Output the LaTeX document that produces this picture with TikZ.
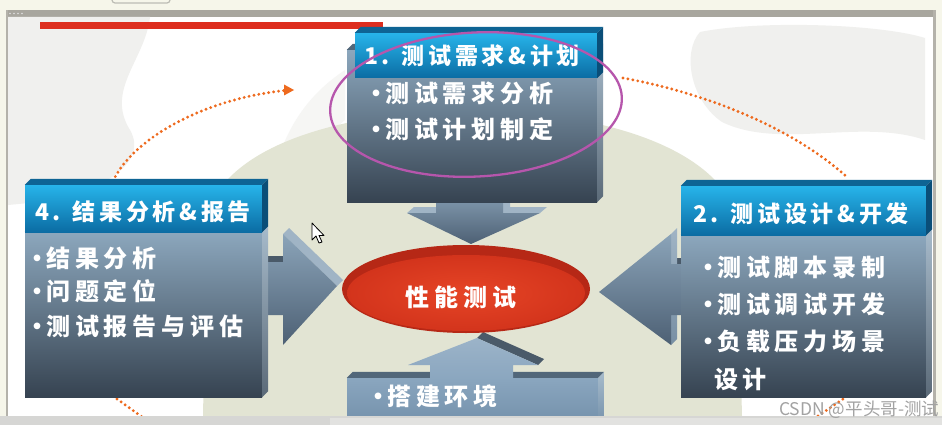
\documentclass[tikz,border=0pt]{standalone}
\usepackage{fontspec}
\newfontfamily\cjk{Noto Sans CJK SC}
\usetikzlibrary{arrows.meta,shapes.geometric}
\definecolor{cream}{HTML}{F6F6EA}
\definecolor{framegrey}{HTML}{A8A69E}
\definecolor{edgegrey}{HTML}{B4B2AA}
\definecolor{tabgrey}{HTML}{BDBDB5}
\definecolor{barA}{HTML}{D6D6D4}
\definecolor{barB}{HTML}{E2E2E0}
\definecolor{cloud}{HTML}{F0F0EE}
\definecolor{beige}{HTML}{E2E4D3}
\definecolor{redline}{HTML}{DD2E1E}
\definecolor{hdrtop}{HTML}{27B4EA}
\definecolor{hdrbot}{HTML}{0B6CA3}
\definecolor{hdrface}{HTML}{0E6494}
\definecolor{hdrside}{HTML}{0A4E78}
\definecolor{bodytop}{HTML}{8CA7BD}
\definecolor{bodybot}{HTML}{364351}
\definecolor{bodyface}{HTML}{52677A}
\definecolor{sidetop}{HTML}{A7BBCB}
\definecolor{sidebot}{HTML}{5B6A78}
\definecolor{arrtop}{HTML}{8BA4B9}
\definecolor{arrbot}{HTML}{4D6074}
\definecolor{arrlight}{HTML}{A0B4C5}
\definecolor{arrdark}{HTML}{4A5A69}
\definecolor{envtop}{HTML}{8AA6BF}
\definecolor{envbot}{HTML}{7390AA}
\definecolor{ellrim}{HTML}{B62816}
\definecolor{ellred}{HTML}{D3341C}
\definecolor{ellhi}{HTML}{E64526}
\definecolor{magentac}{HTML}{B656AC}
\definecolor{dotorange}{HTML}{EE6A1E}
\definecolor{wmgrey}{HTML}{A2A2A2}
\tikzset{
  hdrbox/.style={top color=hdrtop, bottom color=hdrbot, inner sep=0pt, draw=none},
  bodybox/.style={top color=bodytop, bottom color=bodybot, inner sep=0pt, draw=none},
  envbox/.style={top color=envtop, bottom color=envbot, inner sep=0pt, draw=none},
  hdrtxt/.style={text=white, anchor=west, inner sep=0pt,
    font={\cjk\bfseries\fontsize{23}{26}\selectfont\addfontfeature{LetterSpace=16}}},
  itemtxt/.style={text=white, anchor=west, inner sep=0pt,
    font={\cjk\bfseries\fontsize{24}{28}\selectfont\addfontfeature{LetterSpace=20}}},
  dotline/.style={draw=dotorange, line width=3.2pt, line cap=round, dash pattern=on 0pt off 5pt},
  wm/.style={text=wmgrey, anchor=west, inner sep=0pt, font={\cjk\fontsize{17.5}{20}\selectfont}},
}
\newcommand\bul{\makebox[18pt][c]{\addfontfeature{LetterSpace=0}•}}
\newcommand\tdfaces[4]{%
  \fill[#2] (#1.north west) -- ++(6,-6) -- ([shift={(6,-6)}]#1.north east) -- (#1.north east) -- cycle;
  \shade[top color=#3, bottom color=#4] (#1.north east) -- ++(6,-6) -- ([shift={(6,-6)}]#1.south east) -- (#1.south east) -- cycle;}
\begin{document}
\begin{tikzpicture}[x=1pt,y=-1pt]
\useasboundingbox (0,0) rectangle (942,425);
% window / slide frame
\fill[cream] (0,0) rectangle (942,425);
\draw[tabgrey, line width=1.2pt, rounded corners=3pt] (112,-4) -- (112,3) -- (170,3) -- (170,-4);
\fill[framegrey] (6,10) rectangle (936,17);
\foreach \i in {0,1,2,3} \fill[white!75!gray] (10+\i*4,13.5) circle (0.9);
\fill[white] (8,17) rectangle (933,416);
\fill[edgegrey] (6,10) rectangle (8,416);
\fill[edgegrey] (933,10) rectangle (936,416);
% faint ink clouds
\fill[cloud] (8,17) -- (150,17) .. controls (145,60) and (105,90) .. (130,130)
  .. controls (150,165) and (95,190) .. (60,200) -- (8,205) -- cycle;
\fill[cloud] (700,32) .. controls (760,20) and (880,24) .. (925,38) -- (925,140)
  .. controls (860,118) and (780,150) .. (722,122) .. controls (690,100) and (682,52) .. (700,32) -- cycle;
\fill[cloud, opacity=.6] (270,190) .. controls (280,140) and (300,100) .. (345,70) -- (345,120)
  .. controls (320,140) and (300,170) .. (290,200) -- cycle;
% beige disc
\fill[beige] (203,416) -- (207,215) .. controls (225,150) and (330,112) .. (470,110)
  .. controls (610,112) and (715,150) .. (737,215) -- (742,416) -- cycle;
% red title line
\fill[redline] (40,22) rectangle (383,29);
% dotted cycle arcs
\coordinate (d1s) at (113,181); \coordinate (d1e) at (294,90);
\draw[dotline] (d1s) .. controls (135,135) and (210,98) .. (285,90.5);
\fill[dotorange] (d1e) -- (284,84.5) -- (284,95.5) -- cycle;
\coordinate (d2s) at (623,78); \coordinate (d2e) at (848,178);
\draw[dotline] (d2s) .. controls (700,92) and (790,125) .. (d2e);
\coordinate (d3s) at (117,399); \coordinate (d3e) at (145,419);
\draw[dotline] (d3s) -- (d3e);
\coordinate (d4s) at (818,416); \coordinate (d4e) at (846,397);
\draw[dotline] (d4s) -- (d4e);
% ---- block arrows ----
% down arrow (box 1 -> centre)
\fill[arrlight] (407,213) -- (414,207) -- (547,207) -- (540,213) -- cycle;
\fill[arrlight] (503,198) -- (510,198) -- (510,208) -- (503,213) -- cycle;
\shade[top color=arrtop!80!arrbot, bottom color=arrbot] (436,198) -- (503,198) -- (503,213) -- (540,213)
  -- (471,244) -- (407,213) -- (436,213) -- cycle;
% right arrow (box 4 -> centre)
\fill[arrlight] (283,234) -- (289,228) -- (343,280) -- (337,286) -- cycle;
\fill[arrdark] (262,262) -- (268,256) -- (283,256) -- (283,262) -- cycle;
\shade[top color=arrtop, bottom color=arrbot] (262,262) -- (283,262) -- (283,234) -- (337,286)
  -- (283,345) -- (283,315) -- (262,315) -- cycle;
% left arrow (box 2 -> centre)
\fill[arrdark] (671,264) -- (677,258) -- (681,258) -- (681,264) -- cycle;
\shade[top color=arrlight, bottom color=arrtop!70!arrbot] (671,234) -- (677,228) -- (677,339) -- (671,345) -- cycle;
\shade[top color=arrtop, bottom color=arrbot] (681,264) -- (671,264) -- (671,234) -- (599,292)
  -- (671,345) -- (671,315) -- (681,315) -- cycle;
% ---- box 3 (environment) ----
\node[envbox, minimum width=251, minimum height=48] (b3) at (472.5,402) {};
\tdfaces{b3}{bodyface}{sidetop}{envbot}
% up arrow (box 3 -> centre)
\fill[arrdark] (477,338) -- (483,332) -- (544,359) -- (538,365) -- cycle;
\shade[top color=envtop!85!white, bottom color=envtop] (430,380) -- (430,365) -- (408,365) -- (477,338)
  -- (538,365) -- (513,365) -- (513,380) -- cycle;
\node[itemtxt] (i31) at (369,396) {\bul 搭建环境};
% ---- box 1 ----
\node[bodybox, minimum width=250, minimum height=152] (b1) at (472,126) {};
\tdfaces{b1}{bodyface}{sidetop}{sidebot}
\node[hdrbox, minimum width=242, minimum height=45] (h1) at (476,55.5) {};
\tdfaces{h1}{hdrface}{hdrside}{hdrside}
\node[hdrtxt] (t1) at (364,56) {1. 测试需求\&计划};
\node[itemtxt] (i11) at (367,93) {\bul 测试需求分析};
\node[itemtxt] (i12) at (367,129) {\bul 测试计划制定};
% ---- box 4 ----
\node[bodybox, minimum width=237, minimum height=165] (b4) at (143.5,314.5) {};
\tdfaces{b4}{bodyface}{sidetop}{sidebot}
\node[hdrbox, minimum width=237, minimum height=47] (h4) at (143.5,208.5) {};
\tdfaces{h4}{hdrface}{hdrside}{hdrside}
\node[hdrtxt] (t4) at (35,212) {4. 结果分析\&报告};
\node[itemtxt] (i41) at (28,258) {\bul 结果分析};
\node[itemtxt] (i42) at (28,291) {\bul 问题定位};
\node[itemtxt] (i43) at (28,326) {\bul 测试报告与评估};
% ---- box 2 ----
\node[bodybox, minimum width=245, minimum height=162] (b2) at (803.5,316) {};
\tdfaces{b2}{bodyface}{sidetop}{sidebot}
\node[hdrbox, minimum width=245, minimum height=49] (h2) at (803.5,210.5) {};
\tdfaces{h2}{hdrface}{hdrside}{hdrside}
\node[hdrtxt] (t2) at (693,214) {2. 测试设计\&开发};
\node[itemtxt] (i21) at (699,267) {\bul 测试脚本录制};
\node[itemtxt] (i22) at (699,304) {\bul 测试调试开发};
\node[itemtxt] (i23) at (699,341) {\bul 负载压力场景};
\node[itemtxt] (i24) at (714,379) {设计};
% ---- centre ellipse ----
\node[ellipse, fill=ellrim, minimum width=248, minimum height=88, inner sep=0pt] (perf) at (466,289) {};
\shade[inner color=ellhi, outer color=ellred] (466,293) ellipse [x radius=119, y radius=38];
\node[itemtxt, anchor=center] (perftxt) at (461,297) {性能测试};
% ---- highlight ring ----
\draw[magentac, line width=2.3pt, rotate around={3:(476,104.5)}] (476,104.5) ellipse [x radius=146, y radius=72];
% bottom scroll bar
\fill[barA] (0,416) rectangle (942,425);
\fill[barB] (330,418) rectangle (942,425);
% watermark
\node[wm] (wmk) at (779,410) {CSDN @平头哥-测试};
% mouse cursor
\filldraw[fill=white, draw=black, line width=0.8pt, shift={(312,223)}, line join=round]
  (0,0) -- (0,17) -- (4,13) -- (7,20) -- (10,19) -- (7,12.5) -- (12,12.5) -- cycle;
\end{tikzpicture}
\end{document}
